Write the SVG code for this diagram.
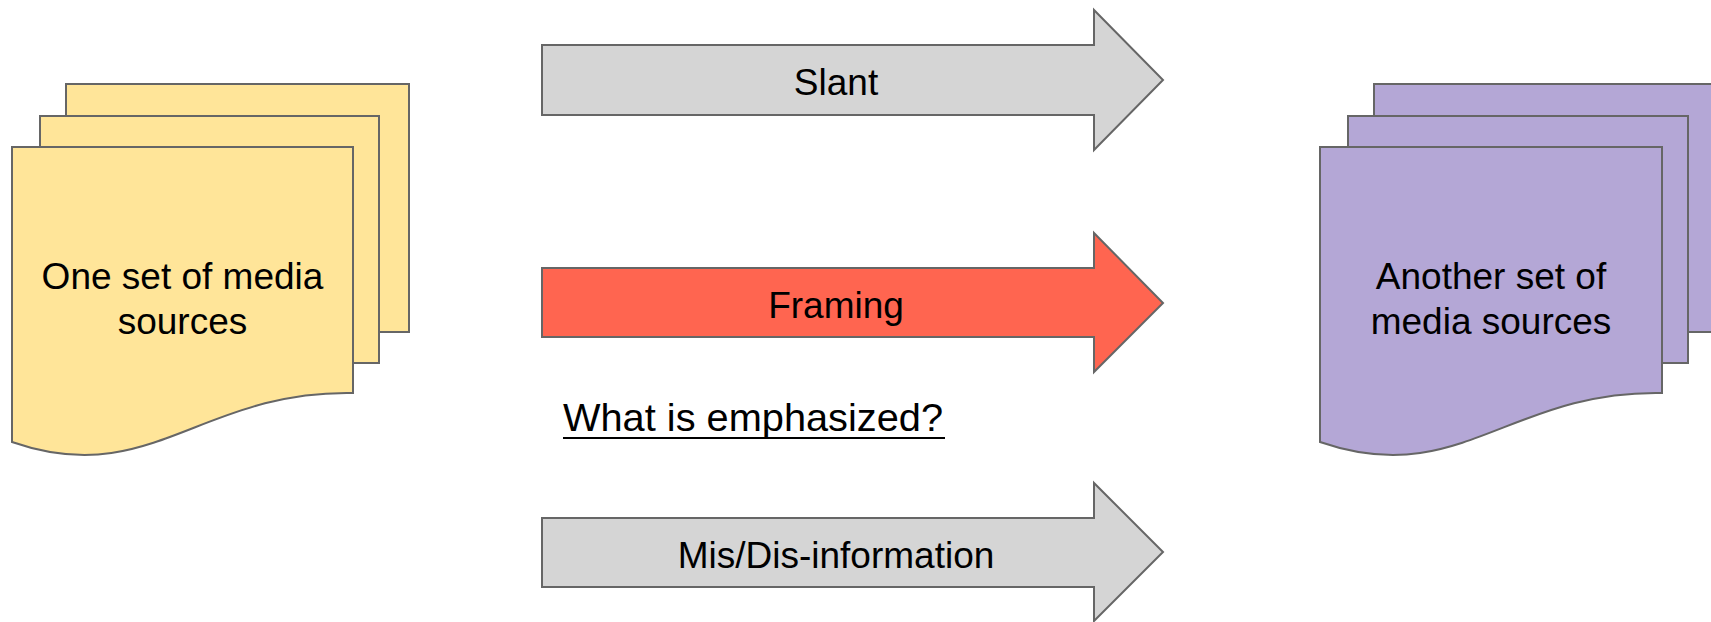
<svg xmlns="http://www.w3.org/2000/svg" width="1711" height="622" viewBox="0 0 1711 622">
<style>
.doc{stroke:#666;stroke-width:2;stroke-linejoin:miter}
.y{fill:#ffe599}
.p{fill:#b4a7d6}
.arr{stroke:#666;stroke-width:2;stroke-linejoin:miter}
.gray{fill:#d5d5d5}
.red{fill:#ff6550}
.t{font-family:"Liberation Sans",Arial,Helvetica,sans-serif;font-size:37px;fill:#000;text-anchor:middle}
</style>
<rect width="1711" height="622" fill="#fff"/>
<g id="source-docs">
<path class="doc y" d="M66,84 H409 V332 H379 V116 H66 Z"/>
<path class="doc y" d="M40,116 H379 V363 H353 V147 H40 Z"/>
<path class="doc y" d="M12,147 H353 V393 C200,390 150,490 12,442 Z"/>
<text class="t" x="182.5" y="289">One set of media</text>
<text class="t" x="182.5" y="334">sources</text>
</g>
<g id="target-docs">
<path class="doc p" d="M1374,84 H1720 V332 H1688 V116 H1374 Z"/>
<path class="doc p" d="M1348,116 H1688 V363 H1662 V147 H1348 Z"/>
<path class="doc p" d="M1320,147 H1662 V393 C1509,390 1459,490 1320,442 Z"/>
<text class="t" x="1491" y="289">Another set of</text>
<text class="t" x="1491" y="334">media sources</text>
</g>
<g id="connectors">
<g id="slant">
<path class="arr gray" d="M542,45 H1094 V10 L1163,80 L1094,150 V115 H542 Z"/>
<text class="t" x="836" y="95">Slant</text>
</g>
<g id="framing">
<path class="arr red" d="M542,268 H1094 V233 L1163,303 L1094,372 V337 H542 Z"/>
<text class="t" x="836" y="318">Framing</text>
</g>
<g id="misdis">
<path class="arr gray" d="M542,518 H1094 V483 L1163,552 L1094,621 V587 H542 Z"/>
<text class="t" x="836" y="568">Mis/Dis-information</text>
</g>
</g>
<g id="emphasis-label">
<text x="563" y="431" textLength="380" lengthAdjust="spacingAndGlyphs" style="font-family:'Liberation Sans',Arial,Helvetica,sans-serif;font-size:39px;fill:#000">What is emphasized?</text>
<line x1="563" y1="438" x2="945" y2="438" stroke="#000" stroke-width="2"/>
</g>
</svg>
